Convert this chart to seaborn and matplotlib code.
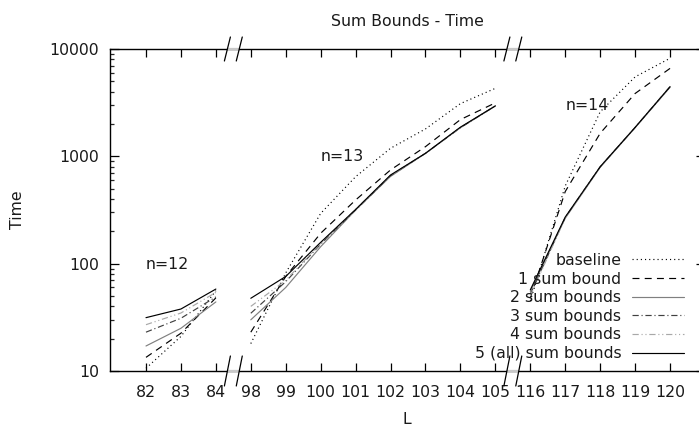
import numpy as np
import pandas as pd
import matplotlib
matplotlib.use("Agg")
import matplotlib.pyplot as plt
import matplotlib.ticker as mticker
import matplotlib.transforms as mtransforms
import seaborn as sns

# ---------------- data ----------------
L_n12 = [82, 83, 84]
L_n13 = [98, 99, 100, 101, 102, 103, 104, 105]
L_n14 = [116, 117, 118, 119, 120]

series = ["baseline", "1 sum bound", "2 sum bounds", "3 sum bounds",
          "4 sum bounds", "5 (all) sum bounds"]

baseline_n12 = [10.6, 21, 56]
baseline_n13 = [18, 82, 294, 646, 1189, 1800, 3100, 4300]
baseline_n14 = [45, 530, 2600, 5500, 8200]

sb1_n12 = [13.4, 22.5, 48]
sb1_n13 = [23, 76, 192, 392, 747, 1231, 2200, 3150]
sb1_n14 = [48, 470, 1640, 3850, 6600]

sb2_n12 = [17.1, 25, 44]
sb2_n13 = [30, 60, 144, 316, 650, 1067, 1850, 2950]
sb2_n14 = [55, 265, 790, 1850, 4400]

sb3_n12 = [23, 31, 49]
sb3_n13 = [34.5, 68, 152, 316, 660, 1067, 1850, 2950]
sb3_n14 = [52, 270, 800, 1860, 4450]

sb4_n12 = [27, 34.7, 54]
sb4_n13 = [40, 70, 155, 320, 665, 1067, 1850, 2950]
sb4_n14 = [50, 268, 800, 1860, 4450]

sb5_n12 = [31.4, 37.8, 58]
sb5_n13 = [47.6, 76, 158, 320, 670, 1067, 1870, 2950]
sb5_n14 = [57, 272, 800, 1860, 4460]

values = {
    "baseline": (baseline_n12, baseline_n13, baseline_n14),
    "1 sum bound": (sb1_n12, sb1_n13, sb1_n14),
    "2 sum bounds": (sb2_n12, sb2_n13, sb2_n14),
    "3 sum bounds": (sb3_n12, sb3_n13, sb3_n14),
    "4 sum bounds": (sb4_n12, sb4_n13, sb4_n14),
    "5 (all) sum bounds": (sb5_n12, sb5_n13, sb5_n14),
}

segments = [("n=12", L_n12), ("n=13", L_n13), ("n=14", L_n14)]
tick_labels = L_n12 + L_n13 + L_n14
positions = list(range(len(tick_labels)))

rows = []
for s in series:
    offset = 0
    for (seg_name, Ls), vals in zip(segments, values[s]):
        for i, (L, v) in enumerate(zip(Ls, vals)):
            rows.append({"pos": offset + i, "L": L, "time": v,
                         "series": s, "segment": seg_name})
        offset += len(Ls)
df = pd.DataFrame(rows)

# ---------------- style ----------------
sns.set_style("ticks")
plt.rcParams["font.family"] = ["DejaVu Sans"]
plt.rcParams["lines.scale_dashes"] = False
FS = 11.3

palette = {
    "baseline": "#000000",
    "1 sum bound": "#000000",
    "2 sum bounds": "#808080",
    "3 sum bounds": "#404040",
    "4 sum bounds": "#a8a8a8",
    "5 (all) sum bounds": "#000000",
}
dashes = {
    "baseline": (0.8, 2.2),
    "1 sum bound": (5.0, 3.8),
    "2 sum bounds": "",
    "3 sum bounds": (4.5, 2.0, 0.8, 2.0),
    "4 sum bounds": (4.5, 2.0, 0.8, 2.0, 0.8, 2.0),
    "5 (all) sum bounds": "",
}

W, H = 699, 429
fig = plt.figure(figsize=(W / 100, H / 100), dpi=100)
ax_l, ax_r, ax_t, ax_b = 110, 705, 49, 371
ax = fig.add_axes([ax_l / W, 1 - ax_b / H, (ax_r - ax_l) / W, (ax_b - ax_t) / H])

sns.lineplot(data=df, x="pos", y="time", hue="series", style="series",
             units="segment", estimator=None, hue_order=series,
             style_order=series, palette=palette, dashes=dashes,
             linewidth=0.85, ax=ax, legend=True)

ax.set_yscale("log")
ax.set_ylim(10, 10000)
ax.set_xlim(-1.03, 16)

ax.set_yticks([10, 100, 1000, 10000])
ax.set_yticklabels(["10", "100", "1000", "10000"])
ax.yaxis.set_minor_locator(mticker.LogLocator(base=10, subs=np.arange(2, 10)))
ax.yaxis.set_minor_formatter(mticker.NullFormatter())
ax.set_xticks(positions)
ax.set_xticklabels([str(v) for v in tick_labels])

for sp in ax.spines.values():
    sp.set_linewidth(1.0)
    sp.set_color("black")

ax.tick_params(axis="y", which="major", direction="in", length=6.5, width=0.9,
               left=True, right=True, labelsize=FS, pad=8, colors="black")
ax.tick_params(axis="y", which="minor", direction="in", length=3.2, width=0.9,
               left=True, right=True)
ax.tick_params(axis="x", which="major", direction="in", length=6, width=0.9,
               bottom=True, top=True, labelsize=FS, pad=10, colors="black")
for lab in ax.get_xticklabels() + ax.get_yticklabels():
    lab.set_color("#1a1a1a")

ax.set_xlabel("L", fontsize=FS, color="#1a1a1a")
ax.set_ylabel("Time", fontsize=FS, color="#1a1a1a")
ax.xaxis.label.set_verticalalignment("center")
ax.xaxis.set_label_coords((407 - ax_l) / (ax_r - ax_l), (ax_b - 420) / (ax_b - ax_t))
ax.yaxis.label.set_verticalalignment("center")
ax.yaxis.set_label_coords((18 - ax_l) / (ax_r - ax_l), 0.5)

fig.text(407 / W, 1 - 21 / H, "Sum Bounds - Time", ha="center", va="center",
         fontsize=FS, color="#1a1a1a")

# segment labels
ax.text(0, 98, "n=12", fontsize=FS, ha="left", va="center", color="#1a1a1a")
ax.text(5, 1000, "n=13", fontsize=FS, ha="left", va="center", color="#1a1a1a")
ax.text(12, 3000, "n=14", fontsize=FS, ha="left", va="center", color="#1a1a1a")

# legend (gnuplot-like: label then sample)
handles, labels = ax.get_legend_handles_labels()
if ax.get_legend() is not None:
    ax.get_legend().remove()
for h in handles:
    h.set_linewidth(0.85)
leg = fig.legend(handles, labels, loc="lower right",
                 bbox_to_anchor=(684 / W, 1 - 361 / H),
                 bbox_transform=fig.transFigure, frameon=False,
                 markerfirst=False, handlelength=3.3, handletextpad=0.7,
                 labelspacing=0.23, borderpad=0, borderaxespad=0,
                 fontsize=FS)
for t in leg.get_texts():
    t.set_color("#1a1a1a")

# axis break marks
trans = mtransforms.blended_transform_factory(ax.transData, ax.transAxes)
unit_px = (ax_r - ax_l) / 17.03
dx = 3 / unit_px
for xb in (2.5, 10.5):
    for yb, half in ((1.0, 12 / 322), (0.0, 15 / 322)):
        ax.plot([xb - 0.17, xb + 0.17], [yb, yb], transform=trans,
                color="#c8c8c8", lw=1.6, clip_on=False, zorder=5,
                solid_capstyle="butt")
        for off in (-0.17, 0.17):
            ax.plot([xb + off - dx, xb + off + dx], [yb - half, yb + half],
                    transform=trans, color="black", lw=0.9, clip_on=False,
                    zorder=6)

fig.savefig("out.png", dpi=100)
